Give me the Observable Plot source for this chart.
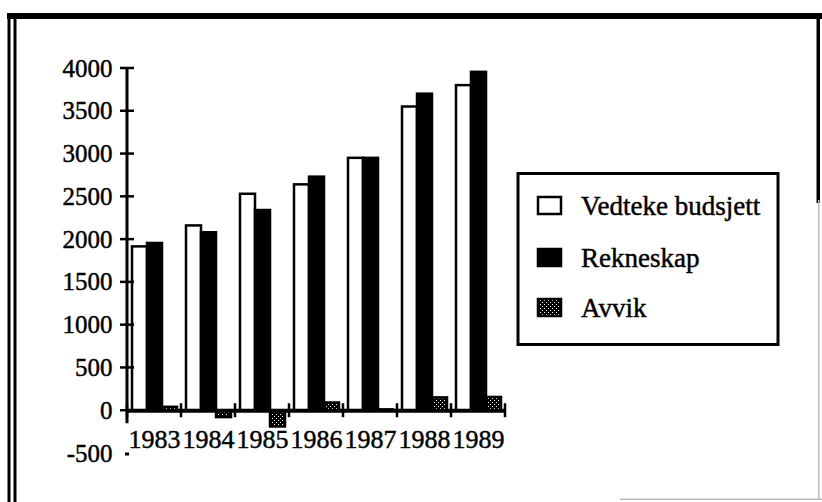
<!DOCTYPE html>
<html>
<head>
<meta charset="utf-8">
<script src="https://cdn.jsdelivr.net/npm/d3@7"></script>
<script src="https://cdn.jsdelivr.net/npm/@observablehq/plot@0.6"></script>
<style>
  html, body { margin: 0; padding: 0; background: white; }
  #wrap { position: relative; width: 822px; height: 502px; overflow: hidden; background: white; }
  #wrap > svg { position: absolute; left: 0; top: 0; }
  #wrap svg, #wrap svg text { font-family: "Liberation Serif", serif; }
  #wrap svg text { stroke: black; stroke-width: 0.45px; paint-order: stroke; }
  #wrap g[aria-label="fx-axis tick label"] text { font-size: 26px; }
  #overlay { pointer-events: none; }
</style>
</head>
<body>
<div id="wrap"></div>
<script>
// ---- data ----
const years = ["1983", "1984", "1985", "1986", "1987", "1988", "1989"];
const seriesNames = ["Vedteke budsjett", "Rekneskap", "Avvik"];
const budsjett  = [1915, 2160, 2530, 2640, 2950, 3550, 3800];
const rekneskap = [1955, 2080, 2340, 2730, 2950, 3700, 3955];
const avvik     = [40, -80, -190, 90, 10, 150, 155];
const yTicks = [-500, 0, 500, 1000, 1500, 2000, 2500, 3000, 3500, 4000];

const rows = years.flatMap((yr, i) => [
  {year: yr, series: seriesNames[0], value: budsjett[i]},
  {year: yr, series: seriesNames[1], value: rekneskap[i]},
  {year: yr, series: seriesNames[2], value: avvik[i]}
]);

const FONT = "Liberation Serif";

const plot = Plot.plot({
  width: 822,
  height: 502,
  marginLeft: 125,
  marginRight: 315,
  marginTop: 68,
  marginBottom: 49,
  style: {fontFamily: FONT, fontSize: "25px", color: "black", background: "white", overflow: "visible"},
  fx: {domain: years, padding: 0, axis: "bottom", tickSize: 0, tickPadding: -24, label: null},
  x: {domain: seriesNames, paddingInner: 0, paddingOuter: 0.22, axis: null},
  y: {domain: [-500, 4000], ticks: yTicks, tickSize: 0, tickPadding: 15, tickFormat: d => String(d), label: null},
  color: {domain: seriesNames, range: ["white", "black", "url(#avvikDots)"]},
  marks: [
    Plot.barY(rows, {fx: "year", x: "series", y: "value", fill: "series", stroke: "black", strokeWidth: 2.5}),
    Plot.ruleY([0], {stroke: "black", strokeWidth: 4})
  ]
});

// pattern for "Avvik"
const sel = d3.select(plot);
const defs = sel.insert("defs", ":first-child");
const pat = defs.append("pattern").attr("id", "avvikDots")
  .attr("patternUnits", "userSpaceOnUse").attr("width", 4).attr("height", 4);
pat.append("rect").attr("width", 4).attr("height", 4).attr("fill", "black");
pat.append("rect").attr("x", 0).attr("y", 0).attr("width", 1).attr("height", 1).attr("fill", "white");
pat.append("rect").attr("x", 2).attr("y", 2).attr("width", 1).attr("height", 1).attr("fill", "white");

// axis lines and crossing ticks, positioned with the plot's own scales
const fxS = plot.scale("fx");
const yS = plot.scale("y");
const bounds = years.map(v => fxS.apply(v));
bounds.push(fxS.apply(years[years.length - 1]) + fxS.bandwidth);
const x0 = bounds[0];
const y0 = yS.apply(0);
const g = sel.append("g").attr("stroke", "black").attr("fill", "none");
g.append("line").attr("x1", x0).attr("x2", x0)
  .attr("y1", yS.apply(yTicks[yTicks.length - 1])).attr("y2", y0 + 13).attr("stroke-width", 3);
yTicks.filter(t => t >= 0).forEach(t => {
  g.append("line").attr("x1", x0 - 7).attr("x2", x0 + 7)
    .attr("y1", yS.apply(t)).attr("y2", yS.apply(t)).attr("stroke-width", 2.5);
});
yTicks.filter(t => t < 0).forEach(t => {
  g.append("line").attr("x1", x0 - 2).attr("x2", x0 + 2)
    .attr("y1", yS.apply(t) + 1).attr("y2", yS.apply(t) + 1).attr("stroke-width", 3);
});
bounds.forEach(b => {
  g.append("line").attr("x1", b).attr("x2", b)
    .attr("y1", y0 - 7).attr("y2", y0 + 7).attr("stroke-width", 2.5);
});

document.getElementById("wrap").appendChild(plot);

// ---- frame and legend overlay ----
const ov = d3.select("#wrap").append("svg").attr("id", "overlay")
  .attr("width", 822).attr("height", 502);
// frame
ov.append("rect").attr("x", 7).attr("y", 13).attr("width", 815).attr("height", 6).attr("fill", "black");
ov.append("rect").attr("x", 7.5).attr("y", 13).attr("width", 3).attr("height", 489).attr("fill", "black");
ov.append("rect").attr("x", 13.5).attr("y", 13).attr("width", 3).attr("height", 489).attr("fill", "black");
ov.append("rect").attr("x", 816.5).attr("y", 13).attr("width", 3.5).attr("height", 190).attr("fill", "black");
ov.append("rect").attr("x", 818).attr("y", 200).attr("width", 1.5).attr("height", 300).attr("fill", "#bbb");
ov.append("rect").attr("x", 620).attr("y", 498.5).attr("width", 202).attr("height", 1.5).attr("fill", "#bbb");

// legend
ov.append("rect").attr("x", 518).attr("y", 173.5).attr("width", 260).attr("height", 171)
  .attr("fill", "white").attr("stroke", "black").attr("stroke-width", 3);
const legendItems = [
  {label: seriesNames[0], fill: "white", y: 197},
  {label: seriesNames[1], fill: "black", y: 249},
  {label: seriesNames[2], fill: "url(#avvikDots)", y: 299}
];
legendItems.forEach(it => {
  ov.append("rect").attr("x", 538).attr("y", it.y).attr("width", 23).attr("height", 17)
    .attr("fill", it.fill).attr("stroke", "black").attr("stroke-width", 2.5);
  ov.append("text").attr("x", 581).attr("y", it.y + 18)
    .attr("font-family", FONT).attr("font-size", 27).attr("fill", "black").text(it.label);
});
</script>
</body>
</html>
